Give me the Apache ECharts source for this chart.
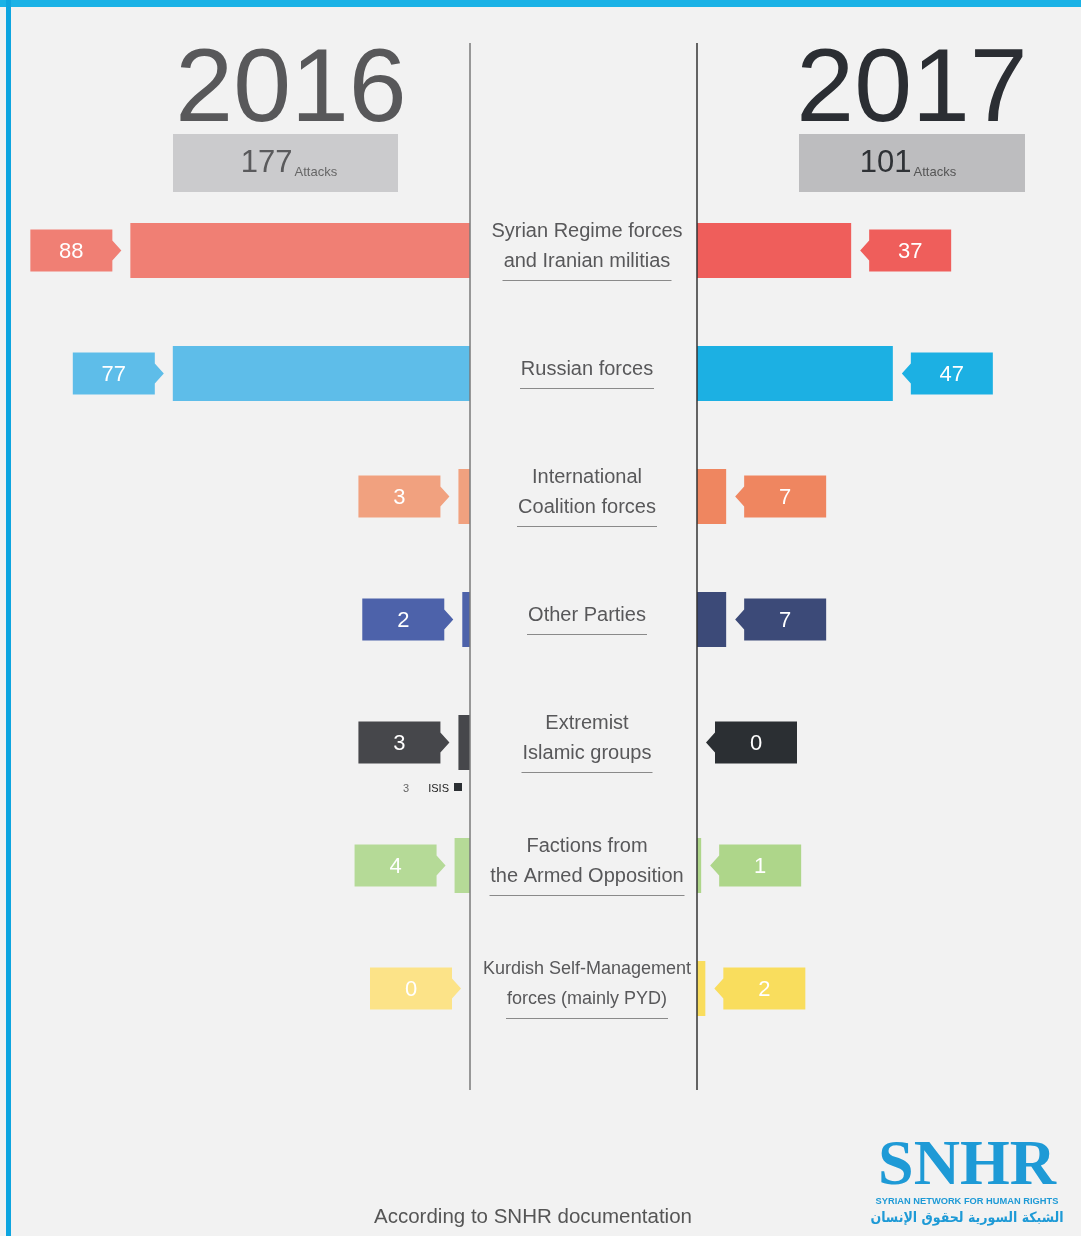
<!DOCTYPE html>
<html>
<head>
<meta charset="utf-8">
<script src="https://cdn.jsdelivr.net/npm/echarts@6/dist/echarts.min.js"></script>
<style>
  html, body { margin: 0; padding: 0; background: #f2f2f2; }
  #chart { width: 1081px; height: 1236px; }
</style>
</head>
<body>
<div id="chart"></div>
<script>
// ---------- DATA ----------
const categories = [
  'Syrian Regime forces\nand Iranian militias',
  'Russian forces',
  'International\nCoalition forces',
  'Other Parties',
  'Extremist\nIslamic groups',
  'Factions from\nthe Armed Opposition',
  'Kurdish Self-Management\nforces (mainly PYD)'
];
const years = ['2016', '2017'];
const totals = [177, 101];
const attacks2016 = [88, 77, 3, 2, 3, 4, 0];
const attacks2017 = [37, 47, 7, 7, 0, 1, 2];
const isisLabel = 'ISIS';
const isisValue = 3;
const sourceNote = 'According to SNHR documentation';

// ---------- STYLE ----------
const colors2016 = ['#F07F74', '#5EBDE9', '#F1A17F', '#4D62AA', '#46474B', '#B5DA97', '#FCE388'];
const colors2017 = ['#EF5E5B', '#1CB0E3', '#EF8660', '#3C4A78', '#2B2F33', '#AED68A', '#F9DD5D'];
const FONT = '"Helvetica Neue", "Liberation Sans", Arial, sans-serif';
const LEFT_AXIS_X = 470, RIGHT_AXIS_X = 697;
const GRID_TOP = 189, GRID_BOTTOM = 1236 - 1050;

const chart = echarts.init(document.getElementById('chart'), null, { renderer: 'canvas' });

// measure label lines: shrink long labels, size the underline to the last line
const mctx = document.createElement('canvas').getContext('2d');
const rich = {
  t: { fontSize: 20, lineHeight: 30, color: '#58585a', fontFamily: FONT, align: 'center' },
  s: { fontSize: 18, lineHeight: 30, color: '#58585a', fontFamily: FONT, align: 'center' }
};
const labelStyleKey = [];
categories.forEach((c, i) => {
  const lines = c.split('\n');
  mctx.font = '20px ' + FONT;
  const maxW = Math.max.apply(null, lines.map(l => mctx.measureText(l).width));
  const key = maxW > 205 ? 's' : 't';
  labelStyleKey.push(key);
  mctx.font = (key === 's' ? 18 : 20) + 'px ' + FONT;
  const w = Math.round(mctx.measureText(lines[lines.length - 1]).width) + 2;
  rich['u' + i] = { width: w, height: 1, lineHeight: 8, backgroundColor: '#8a8a8a', align: 'center' };
});

function makeRender(side, colors) {
  return function (params, api) {
    const idx = params.dataIndex;
    const val = api.value(0);
    const cat = api.value(1);
    const end = api.coord([val, cat]);
    const base = api.coord([0, cat]);
    const cy = end[1];
    const barH = 55, boxH = 42, boxW = 82, gap = 9, arrowD = 9, arrowH = 10;
    const dir = side === 'left' ? -1 : 1;
    const children = [];
    const w = Math.abs(end[0] - base[0]);
    if (w > 0) {
      children.push({
        type: 'rect',
        shape: { x: Math.min(end[0], base[0]), y: cy - barH / 2, width: w, height: barH },
        style: { fill: colors[idx] }
      });
    }
    const tip = end[0] + dir * gap;
    const edge = tip + dir * arrowD;
    const far = edge + dir * boxW;
    children.push({
      type: 'polygon',
      shape: { points: [
        [tip, cy], [edge, cy - arrowH], [edge, cy - boxH / 2], [far, cy - boxH / 2],
        [far, cy + boxH / 2], [edge, cy + boxH / 2], [edge, cy + arrowH]
      ] },
      style: { fill: colors[idx] }
    });
    children.push({
      type: 'text',
      style: {
        text: String(val), x: (edge + far) / 2, y: cy + 1,
        align: 'center', verticalAlign: 'middle',
        fill: '#ffffff', font: '22px ' + FONT
      }
    });
    return { type: 'group', children };
  };
}

const option = {
  backgroundColor: '#f2f2f2',
  animation: false,
  grid: [
    { left: 30, right: 1081 - LEFT_AXIS_X, top: GRID_TOP, bottom: GRID_BOTTOM },
    { left: RIGHT_AXIS_X, right: 84, top: GRID_TOP, bottom: GRID_BOTTOM }
  ],
  xAxis: [
    { gridIndex: 0, type: 'value', min: 0, max: 114, inverse: true, show: false },
    { gridIndex: 1, type: 'value', min: 0, max: 72, show: false }
  ],
  yAxis: [
    { gridIndex: 0, type: 'category', data: categories, inverse: true, show: false },
    {
      gridIndex: 1, type: 'category', data: categories, inverse: true, position: 'left',
      axisLine: { show: false }, axisTick: { show: false }, splitLine: { show: false },
      axisLabel: {
        show: true, interval: 0, margin: 110, align: 'center',
        formatter: function (value, i) {
          const k = labelStyleKey[i];
          const lines = value.split('\n');
          return lines.map(l => '{' + k + '|' + l + '}').join('\n') + '\n{u' + i + '|}';
        },
        rich: rich
      }
    }
  ],
  series: [
    {
      type: 'custom', name: years[0], xAxisIndex: 0, yAxisIndex: 0,
      encode: { x: 0, y: 1 },
      renderItem: makeRender('left', colors2016),
      data: attacks2016.map((v, i) => [v, i])
    },
    {
      type: 'custom', name: years[1], xAxisIndex: 1, yAxisIndex: 1,
      encode: { x: 0, y: 1 },
      renderItem: makeRender('right', colors2017),
      data: attacks2017.map((v, i) => [v, i])
    }
  ],
  graphic: [
    // frame
    { type: 'rect', shape: { x: 0, y: 0, width: 1081, height: 7 }, style: { fill: '#1BB2E6' }, z: 10 },
    { type: 'rect', shape: { x: 6, y: 0, width: 5, height: 1236 }, style: { fill: '#0EA5E0' }, z: 10 },
    // divider lines
    { type: 'line', shape: { x1: LEFT_AXIS_X, y1: 43, x2: LEFT_AXIS_X, y2: 1090 }, style: { stroke: '#7a7a7a', lineWidth: 1.5 }, z: 20 },
    { type: 'line', shape: { x1: RIGHT_AXIS_X, y1: 43, x2: RIGHT_AXIS_X, y2: 1090 }, style: { stroke: '#333333', lineWidth: 1.5 }, z: 20 },
    // year headers
    { type: 'text', style: { text: years[0], x: 291, y: 92, align: 'center', verticalAlign: 'middle', fill: '#58585a', font: '104px ' + FONT } },
    { type: 'text', style: { text: years[1], x: 912, y: 92, align: 'center', verticalAlign: 'middle', fill: '#2b2e33', font: '104px ' + FONT } },
    { type: 'rect', shape: { x: 173, y: 134, width: 225, height: 58 }, style: { fill: '#cbcbcd' } },
    { type: 'rect', shape: { x: 799, y: 134, width: 226, height: 58 }, style: { fill: '#bdbdbf' } },
    {
      type: 'text', z: 5,
      style: {
        text: '{n|' + totals[0] + '}{a|Attacks}', x: 289, y: 162, align: 'center', verticalAlign: 'middle',
        rich: {
          n: { fontSize: 31, fontFamily: FONT, fill: '#5a5a5c', color: '#5a5a5c', verticalAlign: 'bottom', lineHeight: 34 },
          a: { fontSize: 13, fontFamily: FONT, fill: '#666', color: '#666', verticalAlign: 'bottom', lineHeight: 34, padding: [0, 0, 0, 2] }
        }
      }
    },
    {
      type: 'text', z: 5,
      style: {
        text: '{n|' + totals[1] + '}{a|Attacks}', x: 908, y: 162, align: 'center', verticalAlign: 'middle',
        rich: {
          n: { fontSize: 31, fontFamily: FONT, fill: '#2f3236', color: '#2f3236', verticalAlign: 'bottom', lineHeight: 34 },
          a: { fontSize: 13, fontFamily: FONT, fill: '#555', color: '#555', verticalAlign: 'bottom', lineHeight: 34, padding: [0, 0, 0, 2] }
        }
      }
    },
    // ISIS note
    { type: 'text', style: { text: String(isisValue), x: 406, y: 789, align: 'center', verticalAlign: 'middle', fill: '#666', font: '11px ' + FONT } },
    { type: 'text', style: { text: isisLabel, x: 449, y: 789, align: 'right', verticalAlign: 'middle', fill: '#222', font: '11px ' + FONT } },
    { type: 'rect', shape: { x: 454, y: 783, width: 8, height: 8 }, style: { fill: '#2b2f33' } },
    // footer
    { type: 'text', style: { text: sourceNote, x: 533, y: 1217, align: 'center', verticalAlign: 'middle', fill: '#555', font: '20.5px ' + FONT } },
    // logo
    { type: 'text', style: { text: 'SNHR', x: 967, y: 1167, align: 'center', verticalAlign: 'middle', fill: '#1E9AD6', font: 'bold 64px "Liberation Serif", "DejaVu Serif", serif' } },
    { type: 'text', style: { text: 'SYRIAN NETWORK FOR HUMAN RIGHTS', x: 967, y: 1201, align: 'center', verticalAlign: 'middle', fill: '#1E9AD6', font: 'bold 9.3px "Liberation Sans", sans-serif' } },
    { type: 'text', style: { text: 'الشبكة السورية لحقوق الإنسان', x: 967, y: 1218, align: 'center', verticalAlign: 'middle', fill: '#1E9AD6', font: 'bold 14px "DejaVu Sans Condensed", "DejaVu Sans", sans-serif' } }
  ]
};
chart.setOption(option);
</script>
</body>
</html>
